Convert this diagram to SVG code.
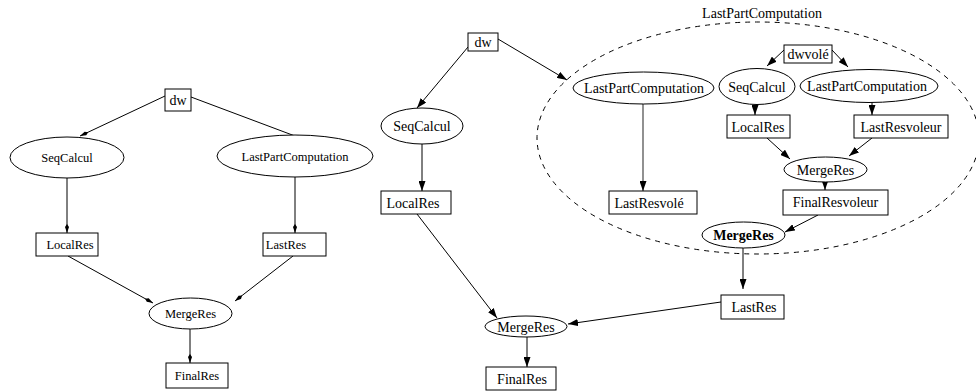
<svg xmlns="http://www.w3.org/2000/svg" width="976" height="392" viewBox="0 0 976 392">
<defs>
<marker id="a" markerUnits="userSpaceOnUse" markerWidth="10" markerHeight="7" refX="10" refY="3.5" orient="auto"><path d="M0,0 L10,3.5 L0,7 Z" fill="#000"/></marker>
<marker id="s" markerUnits="userSpaceOnUse" markerWidth="9" markerHeight="5" refX="9" refY="2.5" orient="auto"><path d="M0,2.5 L3,0.5 L9,2.5 L3,4.5 Z" fill="#000"/></marker>
</defs>
<style>
rect,ellipse{fill:#fff;stroke:#000;stroke-width:1}
text{font-family:"Liberation Serif","Times New Roman",serif;fill:#000;text-anchor:middle}
.l text{font-size:12.5px}
.r text{font-size:14px}
.e path{fill:none;stroke:#000;stroke-width:1}
.el path{marker-end:url(#s)}
.er path{marker-end:url(#a)}
.b{font-weight:bold;font-size:13.5px}
</style>
<rect x="0" y="0" width="976" height="392" style="stroke:none;fill:#fff"/>
<g id="cluster" class="r">
<ellipse cx="758" cy="138" rx="221" ry="116" style="fill:none;stroke-dasharray:5,5"/>
<text x="762" y="18">LastPartComputation</text>
</g>
<g class="e el" id="edges-left">
<path d="M165,96 L80,136"/>
<path d="M191,97 L303,139"/>
<path d="M67,178 L67,233"/>
<path d="M295,177 L295,233"/>
<path d="M68,256 L153,303"/>
<path d="M293,256 L235,301"/>
<path d="M190,329 L190,363"/>
</g>
<g class="e er" id="edges-right">
<path d="M468,47 L417,108"/>
<path d="M498,39 L567,80"/>
<path d="M422,144 L422,191"/>
<path d="M417,214 L497,318"/>
<path d="M721,302 L568,324"/>
<path d="M527,337 L527,367"/>
<path d="M743,248 L743,289"/>
<path d="M643,104 L643,191" style="stroke:#555;stroke-width:1.3"/>
<path d="M784,50 L767,66"/>
<path d="M832,50 L848,67"/>
<path d="M755,105 L755,115"/>
<path d="M872,101 L872,115"/>
<path d="M767,138 L790,159"/>
<path d="M872,138 L849,156"/>
<path d="M825,182 L825,190"/>
<path d="M818,215 L785,232"/>
</g>
<g class="l">
<g id="l-dw"><rect x="165" y="89" width="26" height="22"/><text x="178" y="104.5" style="font-size:14px">dw</text></g>
<g id="l-seqcalcul"><ellipse cx="67" cy="157.5" rx="57" ry="20.5"/><text x="67" y="162">SeqCalcul</text></g>
<g id="l-lastpart"><ellipse cx="295" cy="156" rx="78" ry="21"/><text x="295" y="160.5">LastPartComputation</text></g>
<g id="l-localres"><rect x="36" y="233" width="62" height="23"/><text x="70" y="249">LocalRes</text></g>
<g id="l-lastres"><rect x="263" y="233" width="63" height="23"/><text x="286" y="249">LastRes</text></g>
<g id="l-mergeres"><ellipse cx="190.5" cy="313.5" rx="41.5" ry="15.5"/><text x="190.5" y="318">MergeRes</text></g>
<g id="l-finalres"><rect x="166" y="363" width="62" height="25"/><text x="197" y="380">FinalRes</text></g>
</g>
<g class="r">
<g id="r-dw"><rect x="468" y="33" width="30" height="18"/><text x="483" y="47">dw</text></g>
<g id="r-seqcalcul"><ellipse cx="422" cy="126" rx="41" ry="18"/><text x="422" y="131">SeqCalcul</text></g>
<g id="r-localres"><rect x="381" y="191" width="70" height="23"/><text x="413" y="207.5">LocalRes</text></g>
<g id="r-mergeres"><ellipse cx="526" cy="326.5" rx="41" ry="10.5"/><text x="526" y="331.5">MergeRes</text></g>
<g id="r-finalres"><rect x="486" y="367" width="70" height="23"/><text x="522" y="383.5">FinalRes</text></g>
<g id="r-lastres"><rect x="721" y="295" width="63" height="24"/><text x="754" y="312">LastRes</text></g>
<g id="c-lastpart"><ellipse cx="643.5" cy="88" rx="70.5" ry="16"/><text x="644" y="93">LastPartComputation</text></g>
<g id="c-lastresvole"><rect x="609" y="191" width="88" height="23"/><text x="649" y="207.5">LastResvolé</text></g>
<g id="c-dwvole"><rect x="784" y="45" width="48" height="18"/><text x="808" y="59">dwvolé</text></g>
<g id="c-seqcalcul"><ellipse cx="757" cy="86.5" rx="38" ry="18"/><text x="757" y="91.5">SeqCalcul</text></g>
<g id="c-lastpart2"><ellipse cx="869" cy="86" rx="69" ry="16.5"/><text x="867" y="91">LastPartComputation</text></g>
<g id="c-localres"><rect x="727" y="115" width="63" height="23"/><text x="758" y="131.5">LocalRes</text></g>
<g id="c-lastresvoleur"><rect x="854" y="115" width="94" height="23"/><text x="901" y="131.5">LastResvoleur</text></g>
<g id="c-mergeres"><ellipse cx="825.5" cy="169.5" rx="41.5" ry="12.5"/><text x="825.5" y="174.5">MergeRes</text></g>
<g id="c-finalresvoleur"><rect x="783" y="190" width="105" height="25"/><text x="835.5" y="207">FinalResvoleur</text></g>
<g id="c-mergeres-bold"><ellipse cx="743.5" cy="235" rx="41.5" ry="13"/><text class="b" x="743.5" y="240">MergeRes</text></g>
</g>
</svg>
